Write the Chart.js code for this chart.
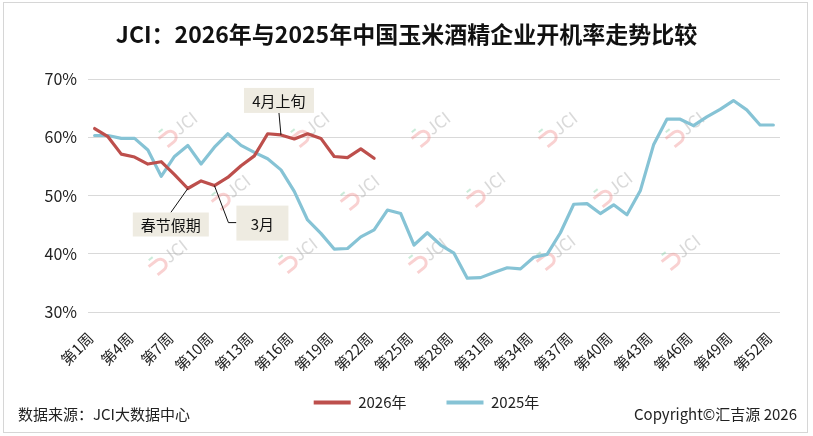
<!DOCTYPE html>
<html>
<head>
<meta charset="utf-8">
<script src="https://cdn.jsdelivr.net/npm/chart.js@4.4.1/dist/chart.umd.min.js"></script>
<style>
    body { margin: 0; background: #fff; }
    #wrap { position: relative; width: 813px; height: 436px; font-family: "Noto Sans CJK SC", sans-serif; }
    #frame { position: absolute; left: 3px; top: 2px; width: 805px; height: 431px; border: 1px solid #d6d6d6; box-sizing: border-box; pointer-events: none; }
    #title { position: absolute; left: 0; top: 16px; width: 813px; text-align: center; font-size: 23px; font-weight: bold; color: #111; }
    .foot { position: absolute; top: 403px; font-size: 15px; color: #222; }
    #src { left: 18px; }
    #copy { right: 16px; }
</style>
</head>
<body>
<div id="wrap">
    <canvas id="chart" width="813" height="436"></canvas>
    <div id="title">JCI：2026年与2025年中国玉米酒精企业开机率走势比较</div>
    <div class="foot" id="src">数据来源：JCI大数据中心</div>
    <div class="foot" id="copy">Copyright©汇吉源 2026</div>
    <div id="frame"></div>
</div>
<script>
// Data
const weeks = Array.from({ length: 52 }, (_, i) => '第' + (i + 1) + '周');
const yTicks = [30, 40, 50, 60, 70];

const rate2026 = [61.5, 60.1, 57.1, 56.6, 55.4, 55.8, 53.6, 51.2, 52.5, 51.7,
    53.1, 55.1, 56.8, 60.6, 60.4, 59.7, 60.6, 59.8, 56.7, 56.5, 58.0, 56.4];

const rate2025 = [60.3, 60.3, 59.8, 59.8, 57.8, 53.3, 56.7, 58.6, 55.4, 58.3,
    60.6, 58.6, 57.4, 56.3, 54.4, 50.7, 45.8, 43.5, 40.8, 40.9,
    42.9, 44.1, 47.5, 46.9, 41.5, 43.6, 41.5, 40.1, 35.8, 35.9,
    36.8, 37.6, 37.4, 39.4, 39.9, 43.6, 48.5, 48.6, 46.9, 48.4,
    46.7, 50.8, 58.7, 63.1, 63.1, 62.0, 63.5, 64.8, 66.3, 64.7,
    62.1, 62.1];

// Callouts: anchored to a 2026 week, box offsets in px from that point
const notes = [
    { text: '4月上旬', week: 15, box: [-37, -47, 70, 25], line: [[-2, -22]] },
    { text: '春节假期', week: 8, box: [-55, 24, 76, 24], line: [[-17, 24]] },
    { text: '3月', week: 10, box: [22, 20, 52, 35], line: [[14, 37], [22, 37]] }
];

// Watermark spots
const marks = [
    [180, 127], [312, 127], [433, 127], [560, 127], [687, 127],
    [233, 190], [362, 190], [488, 187], [615, 187],
    [170, 255], [300, 253], [430, 253], [558, 250], [683, 250]
];

const RED = '#BD4F4C';
const BLUE = '#86C3D5';
const FONT = '"Noto Sans CJK SC", sans-serif';

const watermark = {
    id: 'watermark',
    beforeDatasetsDraw(chart) {
        const c = chart.ctx;
        marks.forEach(([x, y]) => {
            c.save();
            c.translate(x, y);
            c.rotate(-38 * Math.PI / 180);
            c.strokeStyle = 'rgba(240,140,140,0.4)';
            c.lineWidth = 3;
            c.beginPath();
            c.moveTo(-24, -4);
            c.lineTo(-14, -4);
            c.arc(-14, 2, 6, -Math.PI / 2, Math.PI / 2);
            c.lineTo(-22, 8);
            c.stroke();
            c.strokeStyle = 'rgba(140,210,170,0.45)';
            c.lineWidth = 2;
            c.beginPath();
            c.moveTo(-20, -9);
            c.lineTo(-15, -9);
            c.stroke();
            c.fillStyle = 'rgba(170,170,170,0.45)';
            c.font = '17px ' + FONT;
            c.textBaseline = 'middle';
            c.fillText('JCI', -6, 0);
            c.restore();
        });
    }
};

const callouts = {
    id: 'callouts',
    afterDatasetsDraw(chart) {
        const c = chart.ctx;
        const xs = chart.scales.x, ys = chart.scales.y;
        notes.forEach(n => {
            const px = xs.getPixelForValue(n.week - 1);
            const py = ys.getPixelForValue(rate2026[n.week - 1]);
            c.save();
            c.strokeStyle = '#111';
            c.lineWidth = 1;
            c.beginPath();
            c.moveTo(px, py);
            n.line.forEach(([dx, dy]) => c.lineTo(px + dx, py + dy));
            c.stroke();
            const [bx, by, bw, bh] = n.box;
            c.fillStyle = '#EEEBE1';
            c.fillRect(px + bx, py + by, bw, bh);
            c.fillStyle = '#111';
            c.font = '15px ' + FONT;
            c.textAlign = 'center';
            c.textBaseline = 'middle';
            c.fillText(n.text, px + bx + bw / 2, py + by + bh / 2 + 1);
            c.restore();
        });
    }
};

// pull the legend up a bit so the rotated week labels keep their room
const legendShift = {
    id: 'legendShift',
    afterLayout(chart) {
        const lg = chart.legend;
        lg.top -= 16;
        lg.bottom -= 16;
    }
};

new Chart(document.getElementById('chart'), {
    type: 'line',
    data: {
        labels: weeks,
        datasets: [
            { label: '2026年', data: rate2026, borderColor: RED, backgroundColor: RED },
            { label: '2025年', data: rate2025, borderColor: BLUE, backgroundColor: BLUE }
        ]
    },
    options: {
        responsive: false,
        animation: false,
        layout: { padding: { left: 40, right: 0, top: 79, bottom: 0 } },
        elements: {
            line: { borderWidth: 3.2, tension: 0, borderCapStyle: 'round', borderJoinStyle: 'round' },
            point: { radius: 0 }
        },
        scales: {
            x: {
                offset: true,
                grid: { display: false, drawTicks: false },
                border: { display: false },
                ticks: {
                    autoSkip: false,
                    maxRotation: 45,
                    minRotation: 45,
                    padding: 17,
                    labelOffset: -4,
                    color: '#222',
                    font: { family: FONT, size: 15 },
                    callback: (v, i) => i % 3 === 0 ? weeks[i] : ''
                },
                afterFit: s => { s.height = 59; }
            },
            y: {
                min: 30,
                max: 70,
                afterBuildTicks: s => { s.ticks = yTicks.map(v => ({ value: v })); },
                grid: { color: '#d9d9d9', lineWidth: 1, drawTicks: false },
                border: { display: false },
                ticks: {
                    padding: 11,
                    color: '#222',
                    font: { family: FONT, size: 16 },
                    callback: v => v + '%'
                },
                afterFit: s => { s.width = 48; }
            },
            pad: {
                position: 'right',
                display: true,
                grid: { display: false },
                border: { display: false },
                ticks: { display: false },
                afterFit: s => { s.width = 33; }
            }
        },
        plugins: {
            title: { display: false },
            tooltip: { enabled: false },
            legend: {
                position: 'bottom',
                labels: {
                    boxWidth: 37,
                    boxHeight: 4,
                    padding: 40,
                    color: '#222',
                    font: { family: FONT, size: 15 },
                    generateLabels: chart => Chart.defaults.plugins.legend.labels.generateLabels(chart)
                        .map(l => Object.assign(l, { lineWidth: 0 }))
                }
            }
        }
    },
    plugins: [watermark, callouts, legendShift]
});
</script>
</body>
</html>
